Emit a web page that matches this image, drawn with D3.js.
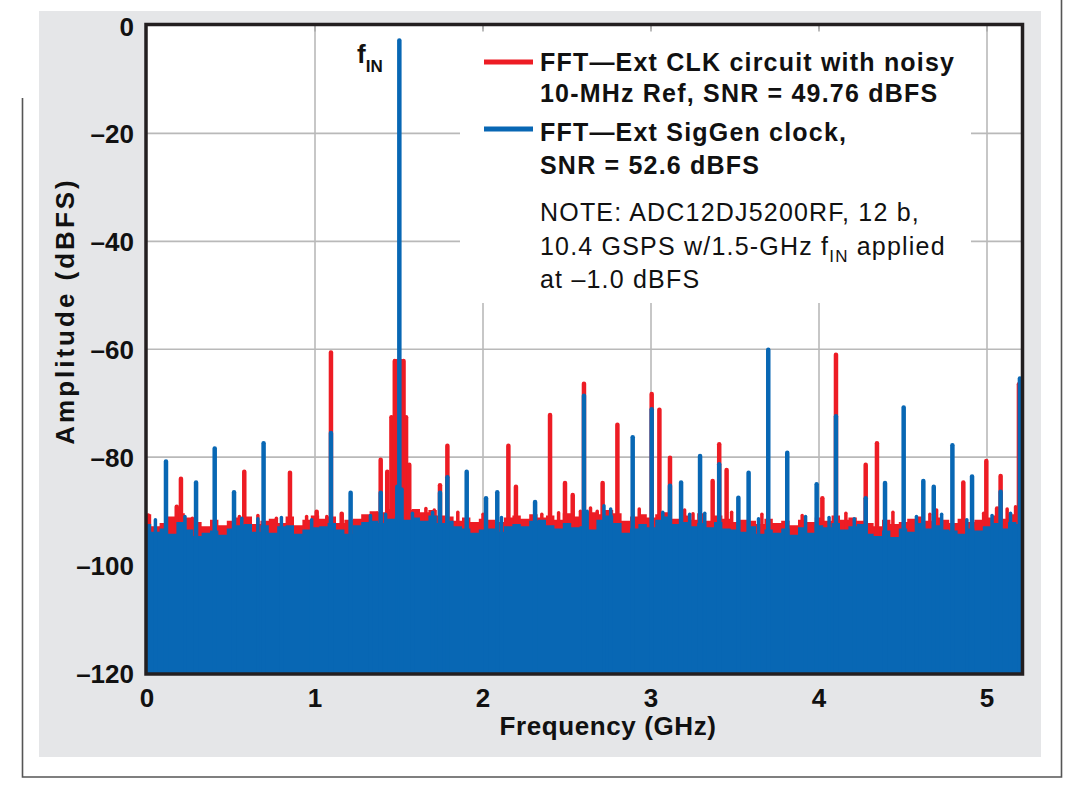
<!DOCTYPE html>
<html>
<head>
<meta charset="utf-8">
<script src="https://cdn.jsdelivr.net/npm/d3@7"></script>
<style>
  body { margin: 0; background: #fff; }
  svg { display: block; font-family: "Liberation Sans", Arial, sans-serif; }
  .grid line { stroke: #b9b9b9; stroke-width: 1.6; }
  .tick-lbl { font-size: 26px; font-weight: bold; fill: #111; }
  .ax-title { font-size: 26px; font-weight: bold; fill: #111; letter-spacing: 0.6px; }
  .leg { font-size: 25px; font-weight: bold; fill: #111; letter-spacing: 1.2px; }
  .note { font-size: 25px; fill: #111; letter-spacing: 1.2px; }
</style>
</head>
<body>
<div id="chart"></div>
<script>
// tick labels
var xTicks = [0, 1, 2, 3, 4, 5];
var yTicks = [0, -20, -40, -60, -80, -100, -120];

// noise floor, read every 0.05 GHz (dBFS)
var floorFreqs = [0, 0.05, 0.1, 0.15, 0.2, 0.25, 0.3, 0.35, 0.4, 0.45, 0.5,
    0.55, 0.6, 0.65, 0.7, 0.75, 0.8, 0.85, 0.9, 0.95, 1.0,
    1.05, 1.1, 1.15, 1.2, 1.25, 1.3, 1.35, 1.4, 1.45, 1.5,
    1.55, 1.6, 1.65, 1.7, 1.75, 1.8, 1.85, 1.9, 1.95, 2.0,
    2.05, 2.1, 2.15, 2.2, 2.25, 2.3, 2.35, 2.4, 2.45, 2.5, 2.55,
    2.6, 2.65, 2.7, 2.75, 2.8, 2.85, 2.9, 2.95, 3.0, 3.05, 3.1,
    3.15, 3.2, 3.25, 3.3, 3.35, 3.4, 3.45, 3.5, 3.55, 3.6, 3.65,
    3.7, 3.75, 3.8, 3.85, 3.9, 3.95, 4.0, 4.05, 4.1, 4.15, 4.2,
    4.25, 4.3, 4.35, 4.4, 4.45, 4.5, 4.55, 4.6, 4.65, 4.7, 4.75,
    4.8, 4.85, 4.9, 4.95, 5.0, 5.05, 5.1, 5.15, 5.2];

var blueFloor = [-92.4, -93.8, -93.2, -94.2, -92.0, -93.4, -94.6, -94.0, -93.6, -94.4, -93.2,
    -92.6, -92.4, -93.8, -92.6, -94.0, -92.8, -92.6, -94.2, -93.4, -93.0,
    -92.8, -92.2, -93.4, -94.2, -92.6, -92.0, -91.8, -92.2, -91.4, -91.2,
    -91.6, -91.2, -91.8, -90.8, -92.2, -91.8, -92.8, -93.2, -94.0, -93.4,
    -93.2, -93.8, -92.8, -92.4, -92.8, -91.8, -91.6, -92.6, -93.2, -92.2, -93.0,
    -92.8, -93.4, -91.6, -90.8, -92.2, -94.0, -93.2, -92.4, -93.0, -91.6, -91.0,
    -92.4, -92.0, -92.8, -92.2, -93.0, -92.0, -93.2, -93.4, -93.8, -92.8, -94.2,
    -93.4, -94.0, -93.2, -94.4, -93.0, -94.0, -92.6, -93.0, -92.2, -93.4, -92.8,
    -92.4, -94.2, -94.6, -93.6, -94.8, -93.2, -93.8, -92.2, -93.2, -92.6, -93.4,
    -93.6, -94.2, -93.2, -93.6, -92.8, -92.2, -93.2, -92.0, -92.4];

var redFloor = [-90.6, -92.8, -92.2, -91.0, -90.4, -91.2, -92.0, -92.8, -91.6, -92.6, -91.8,
    -91.2, -91.0, -92.4, -91.8, -91.4, -92.2, -91.0, -92.6, -91.6, -90.8,
    -91.4, -91.0, -92.2, -91.6, -91.4, -90.6, -90.0, -90.2, -89.6, -89.4,
    -89.8, -89.6, -90.2, -89.8, -90.8, -91.0, -91.8, -91.2, -92.0, -91.4,
    -91.6, -92.0, -91.2, -90.8, -91.4, -90.6, -91.2, -90.8, -91.6, -90.4, -91.0,
    -90.8, -90.2, -90.6, -89.8, -90.4, -91.8, -91.0, -90.6, -91.2, -90.6, -90.2,
    -91.4, -90.8, -91.6, -90.4, -91.8, -90.8, -91.4, -92.0, -91.6, -91.8, -92.4,
    -91.4, -92.2, -91.8, -92.6, -91.6, -92.0, -91.2, -91.8, -90.8, -91.6, -91.2,
    -91.8, -92.2, -92.8, -91.6, -92.4, -92.0, -91.4, -91.0, -91.8, -91.2, -91.6,
    -92.2, -91.4, -92.0, -91.6, -91.2, -90.8, -91.4, -90.6, -91.0];

// spurs: ext CLK circuit with noisy 10-MHz ref (red)
var redSpurFreqs = [0.177, 0.202, 0.579, 0.851, 1.01, 1.095, 1.159, 1.391, 1.43, 1.455,
    1.475, 1.49, 1.51, 1.527, 1.542, 1.561, 1.744, 1.788, 2.151, 2.196,
    2.399, 2.488, 2.534, 2.601, 2.712, 2.8, 3.004, 3.05, 3.113, 3.367,
    3.406, 3.45, 4.02, 4.101, 4.278, 4.345, 4.859, 4.996, 5.06, 5.081, 5.19];
var redSpurLevels = [-89.2, -84.0, -82.7, -82.9, -90.1, -60.6, -90.5, -80.5, -82.7, -72.6,
    -62.2, -62.2, -62.2, -62.2, -72.6, -81.4, -85.2, -77.9, -77.9, -85.5,
    -72.2, -84.8, -87.0, -66.4, -84.8, -74.0, -68.3, -71.2, -80.1, -84.4,
    -77.6, -82.4, -87.6, -61.0, -81.4, -77.4, -84.7, -80.7, -89.5, -83.5, -66.5];
// small noise bumps poking above the red floor
var redBumpFreqs = [0.008, 0.27, 0.55, 0.66, 0.77, 0.95, 1.07, 1.37, 1.66, 1.71,
    1.85, 2.0, 2.35, 2.45, 2.58, 2.64, 2.68, 2.93, 3.2, 3.25,
    3.48, 3.66, 3.9, 4.16, 4.44, 4.66, 4.7, 4.98, 5.12, 5.17];
var redBumpLevels = [-90.7, -91.3, -91.0, -90.8, -91.3, -91.0, -91.0, -90.4, -89.5, -89.8,
    -90.2, -90.6, -90.6, -90.3, -90.0, -89.4, -90.0, -89.6, -89.8, -90.5,
    -90.2, -90.6, -90.8, -90.4, -90.2, -90.6, -89.8, -90.4, -89.6, -89.2];

// spurs: ext SigGen clock (blue)
var blueSpurFreqs = [0.113, 0.292, 0.403, 0.518, 0.694, 1.095, 1.212, 1.391, 1.49, 1.502,
    1.515, 1.744, 1.788, 1.903, 2.018, 2.085, 2.31, 2.601, 2.891, 3.004,
    3.113, 3.179, 3.292, 3.406, 3.52, 3.581, 3.698, 3.811, 3.986, 4.101,
    4.278, 4.393, 4.504, 4.621, 4.683, 4.794, 4.911, 5.081, 5.196];
var blueSpurLevels = [-80.8, -84.7, -78.4, -86.5, -77.4, -75.5, -86.6, -86.6, -85.5, -2.8,
    -86.0, -86.6, -83.7, -82.7, -87.6, -86.5, -88.3, -68.6, -76.3, -71.1,
    -85.3, -84.7, -79.8, -81.3, -87.5, -82.9, -60.1, -79.2, -85.0, -72.4,
    -87.6, -84.8, -70.8, -84.4, -85.5, -77.8, -83.6, -86.4, -65.4];
var blueBumpFreqs = [0.05, 0.226, 0.564, 0.66, 0.8, 0.98, 1.33, 1.42, 1.58, 1.7,
    2.11, 2.62, 2.72, 2.76, 3.07, 3.23, 3.32, 3.64, 3.92, 4.06,
    4.21, 4.58, 4.73, 4.88, 5.03, 5.14];
var blueBumpLevels = [-91.6, -91.0, -91.3, -91.4, -91.2, -91.6, -90.8, -90.6, -90.4, -90.2,
    -91.2, -90.0, -89.0, -89.6, -90.2, -90.6, -90.4, -91.4, -91.0, -91.2,
    -91.4, -91.0, -90.6, -91.6, -90.8, -90.4];

var RED = "#ed1c24", BLUE = "#0867b4";

var W = 1080, H = 791;
var plot = {left: 147, right: 1020.6, top: 25.5, bottom: 673};

var x = d3.scaleLinear().domain([0, 5.2]).range([plot.left, plot.right]);
var y = d3.scaleLinear().domain([-120, 0]).range([plot.bottom, plot.top]);

var svg = d3.select("#chart").append("svg").attr("width", W).attr("height", H);

// page frame + grey panel
svg.append("rect").attr("x", 39).attr("y", 11).attr("width", 1002).attr("height", 746).attr("fill", "#e5e6e8");
svg.append("path").attr("d", "M22.5,98 V777 H1061.5 V0").attr("fill", "none").attr("stroke", "#555").attr("stroke-width", 1.6);

svg.append("rect").attr("x", plot.left - 1).attr("y", plot.top - 1.5)
    .attr("width", 1023 - plot.left).attr("height", 674 - plot.top + 1.5).attr("fill", "#fff");

// grid
var grid = svg.append("g").attr("class", "grid");
grid.selectAll(".gx").data(xTicks.slice(1)).enter().append("line")
    .attr("x1", function(d) { return x(d); }).attr("x2", function(d) { return x(d); })
    .attr("y1", plot.top).attr("y2", plot.bottom);
grid.selectAll(".gy").data(yTicks.slice(1, -1)).enter().append("line")
    .attr("x1", plot.left).attr("x2", 1022)
    .attr("y1", function(d) { return y(d); }).attr("y2", function(d) { return y(d); });

// legend box hides grid behind it
svg.append("rect").attr("x", 460).attr("y", 29).attr("width", 511).attr("height", 274).attr("fill", "#fff");

// inner top ticks
svg.append("g").selectAll("line").data(xTicks.slice(1)).enter().append("line")
    .attr("x1", function(d) { return x(d); }).attr("x2", function(d) { return x(d); })
    .attr("y1", plot.top).attr("y2", plot.top + 6).attr("stroke", "#aaa").attr("stroke-width", 1.6);

// data
svg.append("clipPath").attr("id", "clip").append("rect")
    .attr("x", plot.left).attr("y", plot.top).attr("width", plot.right - plot.left + 2).attr("height", plot.bottom - plot.top);
var data = svg.append("g").attr("clip-path", "url(#clip)");

var area = d3.area().curve(d3.curveStep)
    .x(function(d) { return x(d[0]); })
    .y0(y(-120))
    .y1(function(d) { return y(d[1]); });

function spikes(freqs, levels, color, w) {
    data.selectAll(null).data(freqs).enter().append("line")
        .attr("x1", function(d) { return x(d); }).attr("x2", function(d) { return x(d); })
        .attr("y1", y(-120)).attr("y2", function(d, i) { return y(levels[i]); })
        .attr("stroke", color).attr("stroke-width", w).attr("stroke-linecap", "round");
}

function drawSeries(floor, bumpF, bumpL, spurF, spurL, color) {
    var pts = floorFreqs.map(function(f, i) { return [f, floor[i]]; });
    data.append("path").datum(pts).attr("d", area).attr("fill", color);
    spikes(bumpF, bumpL, color, 3.5);
    spikes(spurF, spurL, color, 4.5);
}
drawSeries(redFloor, redBumpFreqs, redBumpLevels, redSpurFreqs, redSpurLevels, RED);
drawSeries(blueFloor, blueBumpFreqs, blueBumpLevels, blueSpurFreqs, blueSpurLevels, BLUE);

// plot frame
svg.append("rect").attr("x", 146).attr("y", 24.5).attr("width", 1022.5 - 146).attr("height", 674 - 24.5)
    .attr("fill", "none").attr("stroke", "#231f20").attr("stroke-width", 3.5);

// tick labels
svg.append("g").selectAll("text").data(yTicks).enter().append("text")
    .attr("class", "tick-lbl").attr("text-anchor", "end")
    .attr("x", 134).attr("y", function(d) { return y(d) + 10; })
    .text(function(d) { return d === 0 ? "0" : "\u2013" + Math.abs(d); });
svg.append("g").selectAll("text").data(xTicks).enter().append("text")
    .attr("class", "tick-lbl").attr("text-anchor", "middle")
    .attr("x", function(d) { return x(d); }).attr("y", 707)
    .text(function(d) { return d; });

// axis titles
svg.append("text").attr("class", "ax-title").attr("text-anchor", "middle")
    .attr("x", 608).attr("y", 735).text("Frequency (GHz)");
svg.append("text").attr("class", "ax-title").attr("text-anchor", "middle")
    .style("letter-spacing", "3px")
    .attr("transform", "translate(74,311) rotate(-90)").text("Amplitude (dBFS)");

// f_IN marker
var fin = svg.append("text").attr("x", 357).attr("y", 63).attr("font-weight", "bold").attr("fill", "#111");
fin.append("tspan").attr("font-size", 26).text("f");
fin.append("tspan").attr("font-size", 17).attr("dy", 9).text("IN");

// legend
var legend = [
    {color: RED, y: 62, lines: ["FFT\u2014Ext CLK circuit with noisy", "10-MHz Ref, SNR = 49.76 dBFS"], base: [71, 102]},
    {color: BLUE, y: 129, lines: ["FFT\u2014Ext SigGen clock,", "SNR = 52.6 dBFS"], base: [141, 174]}
];
legend.forEach(function(l) {
    svg.append("line").attr("x1", 484).attr("x2", 533).attr("y1", l.y).attr("y2", l.y)
        .attr("stroke", l.color).attr("stroke-width", 5);
    l.lines.forEach(function(t, i) {
        svg.append("text").attr("class", "leg").attr("x", 540).attr("y", l.base[i]).text(t);
    });
});
svg.append("text").attr("class", "note").attr("x", 540).attr("y", 221).text("NOTE: ADC12DJ5200RF, 12 b,");
var n2 = svg.append("text").attr("class", "note").attr("x", 540).attr("y", 255);
n2.append("tspan").text("10.4 GSPS w/1.5-GHz f");
n2.append("tspan").attr("font-size", 17).attr("dy", 7).text("IN");
n2.append("tspan").attr("dy", -7).text(" applied");
svg.append("text").attr("class", "note").attr("x", 540).attr("y", 288).text("at \u20131.0 dBFS");
</script>
</body>
</html>
